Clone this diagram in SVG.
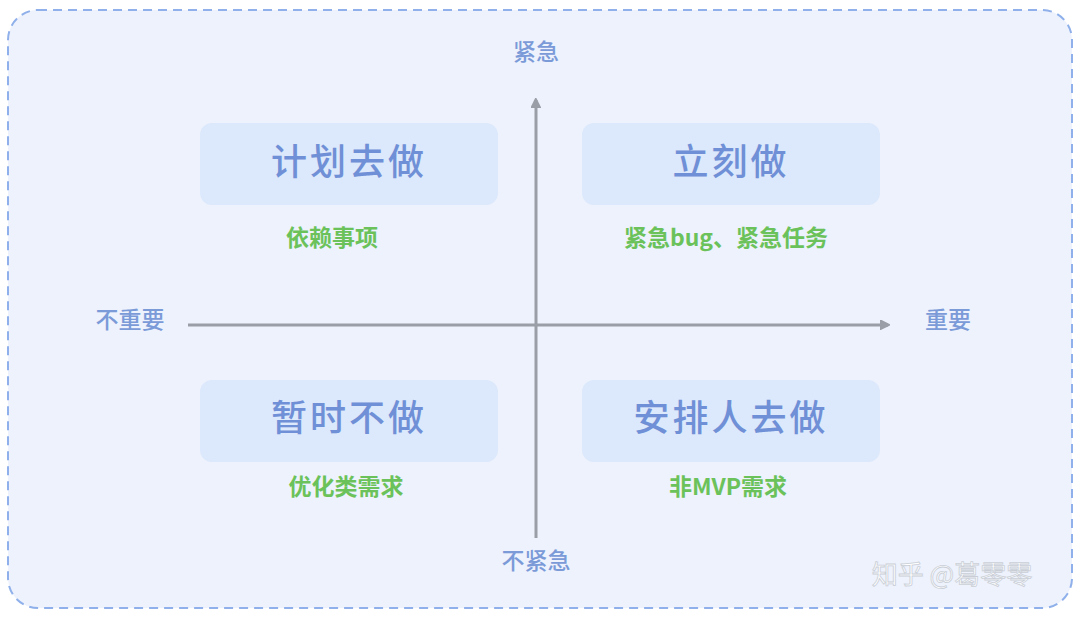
<svg xmlns="http://www.w3.org/2000/svg" width="1080" height="618" viewBox="0 0 1080 618">
<defs>
<style>
.box{fill:#dce8fb}
.t{font-family:"Noto Sans CJK SC",sans-serif;fill:#6f8fd6;text-anchor:middle;font-size:36px;font-weight:500;letter-spacing:3px}
.s{font-family:"Noto Sans CJK SC",sans-serif;fill:#6cc25a;text-anchor:middle;font-size:23px;font-weight:bold}
.a{font-family:"Noto Sans CJK SC",sans-serif;fill:#7b9ad8;text-anchor:middle;font-size:23px;font-weight:500}
.ax{stroke:#9a9ea6;stroke-width:3;fill:none}
</style>
<marker id="ah" markerWidth="10" markerHeight="10" refX="8" refY="5" orient="auto" markerUnits="userSpaceOnUse"><path d="M0,0 L10,5 L0,10 Z" fill="#9a9ea6" transform="scale(1.6) translate(-3,-2)"/></marker>
</defs>
<rect width="1080" height="618" fill="#fff"/>
<rect x="8" y="10" width="1064" height="598" rx="30" fill="#edf2fd" stroke="#8fb0ea" stroke-width="2" stroke-dasharray="9,6"/>
<g id="connectors">
<line class="ax" x1="536" y1="538" x2="536" y2="100" marker-end="url(#ah)"/>
<line class="ax" x1="188" y1="325" x2="888" y2="325" marker-end="url(#ah)"/>
</g>
<g id="axis-labels">
<text class="a" x="536" y="60">紧急</text>
<text class="a" x="536" y="569">不紧急</text>
<text class="a" x="130" y="328">不重要</text>
<text class="a" x="948" y="328">重要</text>
</g>
<g id="q1"><rect class="box" x="200" y="123" width="298" height="82" rx="12"/><text class="t" x="349" y="175">计划去做</text><text class="s" x="332" y="246">依赖事项</text></g>
<g id="q2"><rect class="box" x="582" y="123" width="298" height="82" rx="12"/><text class="t" x="731" y="175">立刻做</text><text class="s" x="726" y="246">紧急bug、紧急任务</text></g>
<g id="q3"><rect class="box" x="200" y="380" width="298" height="82" rx="12"/><text class="t" x="349" y="431">暂时不做</text><text class="s" x="346" y="495">优化类需求</text></g>
<g id="q4"><rect class="box" x="582" y="380" width="298" height="82" rx="12"/><text class="t" x="731" y="431">安排人去做</text><text class="s" x="728" y="495">非MVP需求</text></g>
<text x="952" y="584" font-family="Noto Sans CJK SC,sans-serif" font-size="26" fill="#ffffff" stroke="#c9ced6" stroke-width="0.8" text-anchor="middle">知乎 @葛零零</text>
</svg>
